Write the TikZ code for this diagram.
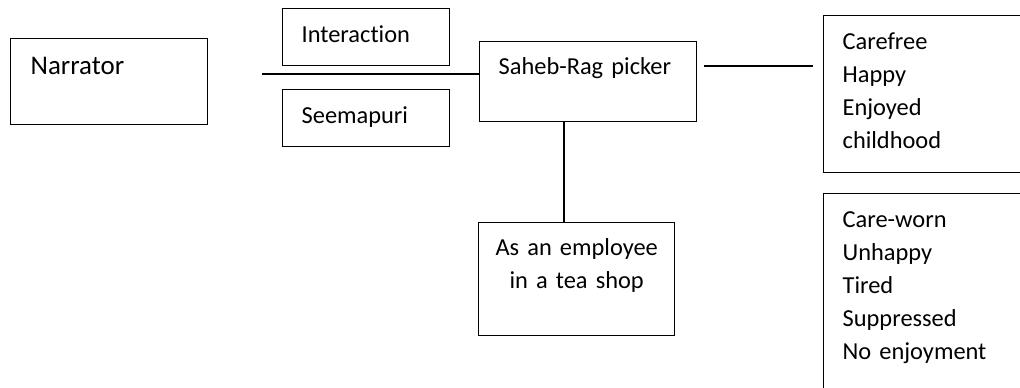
\documentclass[tikz,border=0pt]{standalone}
\usepackage{fontspec}
\setmainfont{Carlito}[Ligatures=NoCommon, WordSpace=0.8]
\def\px{0.75pt}
\tikzstyle{box} = [
  draw,
  line width=1pt,
  rectangle,
  anchor=north west,
  inner ysep=0pt,
  inner xsep=19*\px,
  align=left,
  font=\fontsize{18.3}{24.75}\selectfont,
]
\tikzstyle{link} = [line width=1pt]

\begin{document}
\begin{tikzpicture}[x=\px, y=-\px]
  \useasboundingbox (0,0) rectangle (1020,388);

  % Boxes
  \node[box, inner xsep=20*\px, text width=157*\px, text height=36*\px, text depth=50*\px,
        font=\fontsize{20.2}{26}\selectfont] (narrator) at (10,38) {Narrator};
  \node[box, text width=129*\px, text height=34*\px, text depth=23*\px] (interaction) at (282,8) {Interaction};
  \node[box, text width=129*\px, text height=34*\px, text depth=23*\px] (seemapuri) at (282,89) {Seemapuri};
  \node[box, text width=179*\px, text height=33*\px, text depth=47*\px] (saheb) at (479,41) {Saheb-Rag picker};
  \node[box, align=center, inner xsep=10*\px, text width=176*\px, text height=33*\px, text depth=80*\px]
    (teashop) at (478,222) {As an employee\\in a tea shop};
  \node[box, text width=222*\px, text height=34*\px, text depth=123*\px]
    (carefree) at (823,15) {Carefree\\Happy\\Enjoyed\\childhood};
  \node[box, text width=222*\px, text height=34*\px, text depth=193*\px]
    (careworn) at (823,193) {Care-worn\\Unhappy\\Tired\\Suppressed\\No enjoyment};

  % Links
  \coordinate (feed) at (262,74);
  \draw[link] (feed) -- (feed -| saheb.west);
  \coordinate (gapL) at (704,66);
  \coordinate (gapR) at (813,66);
  \draw[link] (gapL) -- (gapR);
  \coordinate (drop) at (564,0);
  \draw[link] (saheb.south -| drop) -- (teashop.north -| drop);
\end{tikzpicture}
\end{document}
